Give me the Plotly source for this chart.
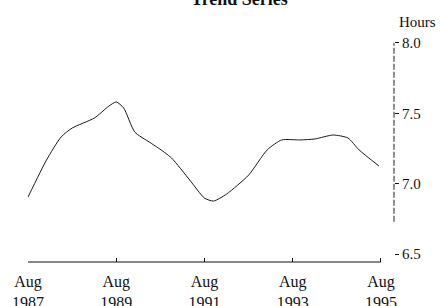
import plotly.graph_objects as go

# Data (monthly trend, hours)
dates = ["1987-08-01", "1988-01-01", "1988-05-01", "1988-08-01", "1989-02-01",
         "1989-06-01", "1989-08-01", "1989-10-01", "1990-01-01", "1990-05-01",
         "1990-07-15", "1990-11-01", "1991-04-01", "1991-08-01", "1991-10-15",
         "1992-02-01", "1992-08-01", "1993-01-01", "1993-05-01", "1993-10-01",
         "1994-02-01", "1994-07-01", "1994-11-01", "1995-02-01", "1995-07-15"]
hours = [6.905, 7.168, 7.332, 7.396, 7.467,
         7.552, 7.581, 7.538, 7.367, 7.296,
         7.254, 7.183, 7.026, 6.898, 6.877,
         6.927, 7.062, 7.240, 7.311, 7.311,
         7.318, 7.346, 7.325, 7.240, 7.126]

x_tick_vals = ["1987-08-01", "1989-08-01", "1991-08-01", "1993-08-01", "1995-08-01"]
x_tick_text = ["Aug<br>1987", "Aug<br>1989", "Aug<br>1991", "Aug<br>1993", "Aug<br>1995"]
y_tick_vals = [6.5, 7.0, 7.5, 8.0]
y_tick_text = ["6.5", "7.0", "7.5", "8.0"]

SERIF = "Liberation Serif, Times New Roman, serif"

fig = go.Figure()
fig.add_trace(go.Scatter(
    x=dates, y=hours, mode="lines",
    line=dict(color="#1a1a1a", width=1, shape="spline", smoothing=0.6),
    showlegend=False, hoverinfo="skip",
))

fig.update_layout(
    width=442, height=306,
    margin=dict(l=28, r=48, t=30, b=44, autoexpand=False),
    paper_bgcolor="white", plot_bgcolor="white",
    font=dict(family=SERIF, size=15, color="#111"),
    xaxis=dict(
        type="date", range=["1987-08-01", "1995-11-17"],
        tickvals=x_tick_vals, ticktext=x_tick_text,
        ticks="inside", ticklen=4, tickcolor="#111", tickwidth=1,
        showgrid=False, zeroline=False, showline=False, automargin=False,
        ticklabelstandoff=8,
        tickfont=dict(family=SERIF, size=16, color="#111"),
    ),
    yaxis=dict(
        side="right", range=[6.444, 8.092],
        tickvals=y_tick_vals, ticktext=y_tick_text,
        ticks="outside", ticklen=4, tickcolor="#111", tickwidth=1,
        showgrid=False, zeroline=False, showline=False, automargin=False,
        tickfont=dict(family=SERIF, size=15, color="#111"),
    ),
    shapes=[
        dict(type="line", xref="x", yref="paper",
             x0="1987-08-01", x1="1995-08-01", y0=0, y1=0,
             line=dict(color="#111", width=1.2)),
        dict(type="line", xref="paper", yref="y",
             x0=1, x1=1, y0=6.73, y1=8.0,
             line=dict(color="#222", width=1, dash="6px,2px")),
    ],
    annotations=[
        dict(text="<b>Trend Series</b>", xref="paper", yref="paper",
             x=0.577, y=1, xanchor="center", yanchor="middle", yshift=31,
             showarrow=False, font=dict(family=SERIF, size=18, color="#111")),
        dict(text="Hours", xref="paper", yref="paper",
             x=1, y=1, xanchor="right", yanchor="middle", xshift=44, yshift=8,
             showarrow=False, font=dict(family=SERIF, size=15, color="#111")),
    ],
)

fig.write_html(
    "out.html",
    config={"displayModeBar": False, "staticPlot": True},
    post_script="document.body.style.margin='0';document.body.style.overflow='hidden';",
)
